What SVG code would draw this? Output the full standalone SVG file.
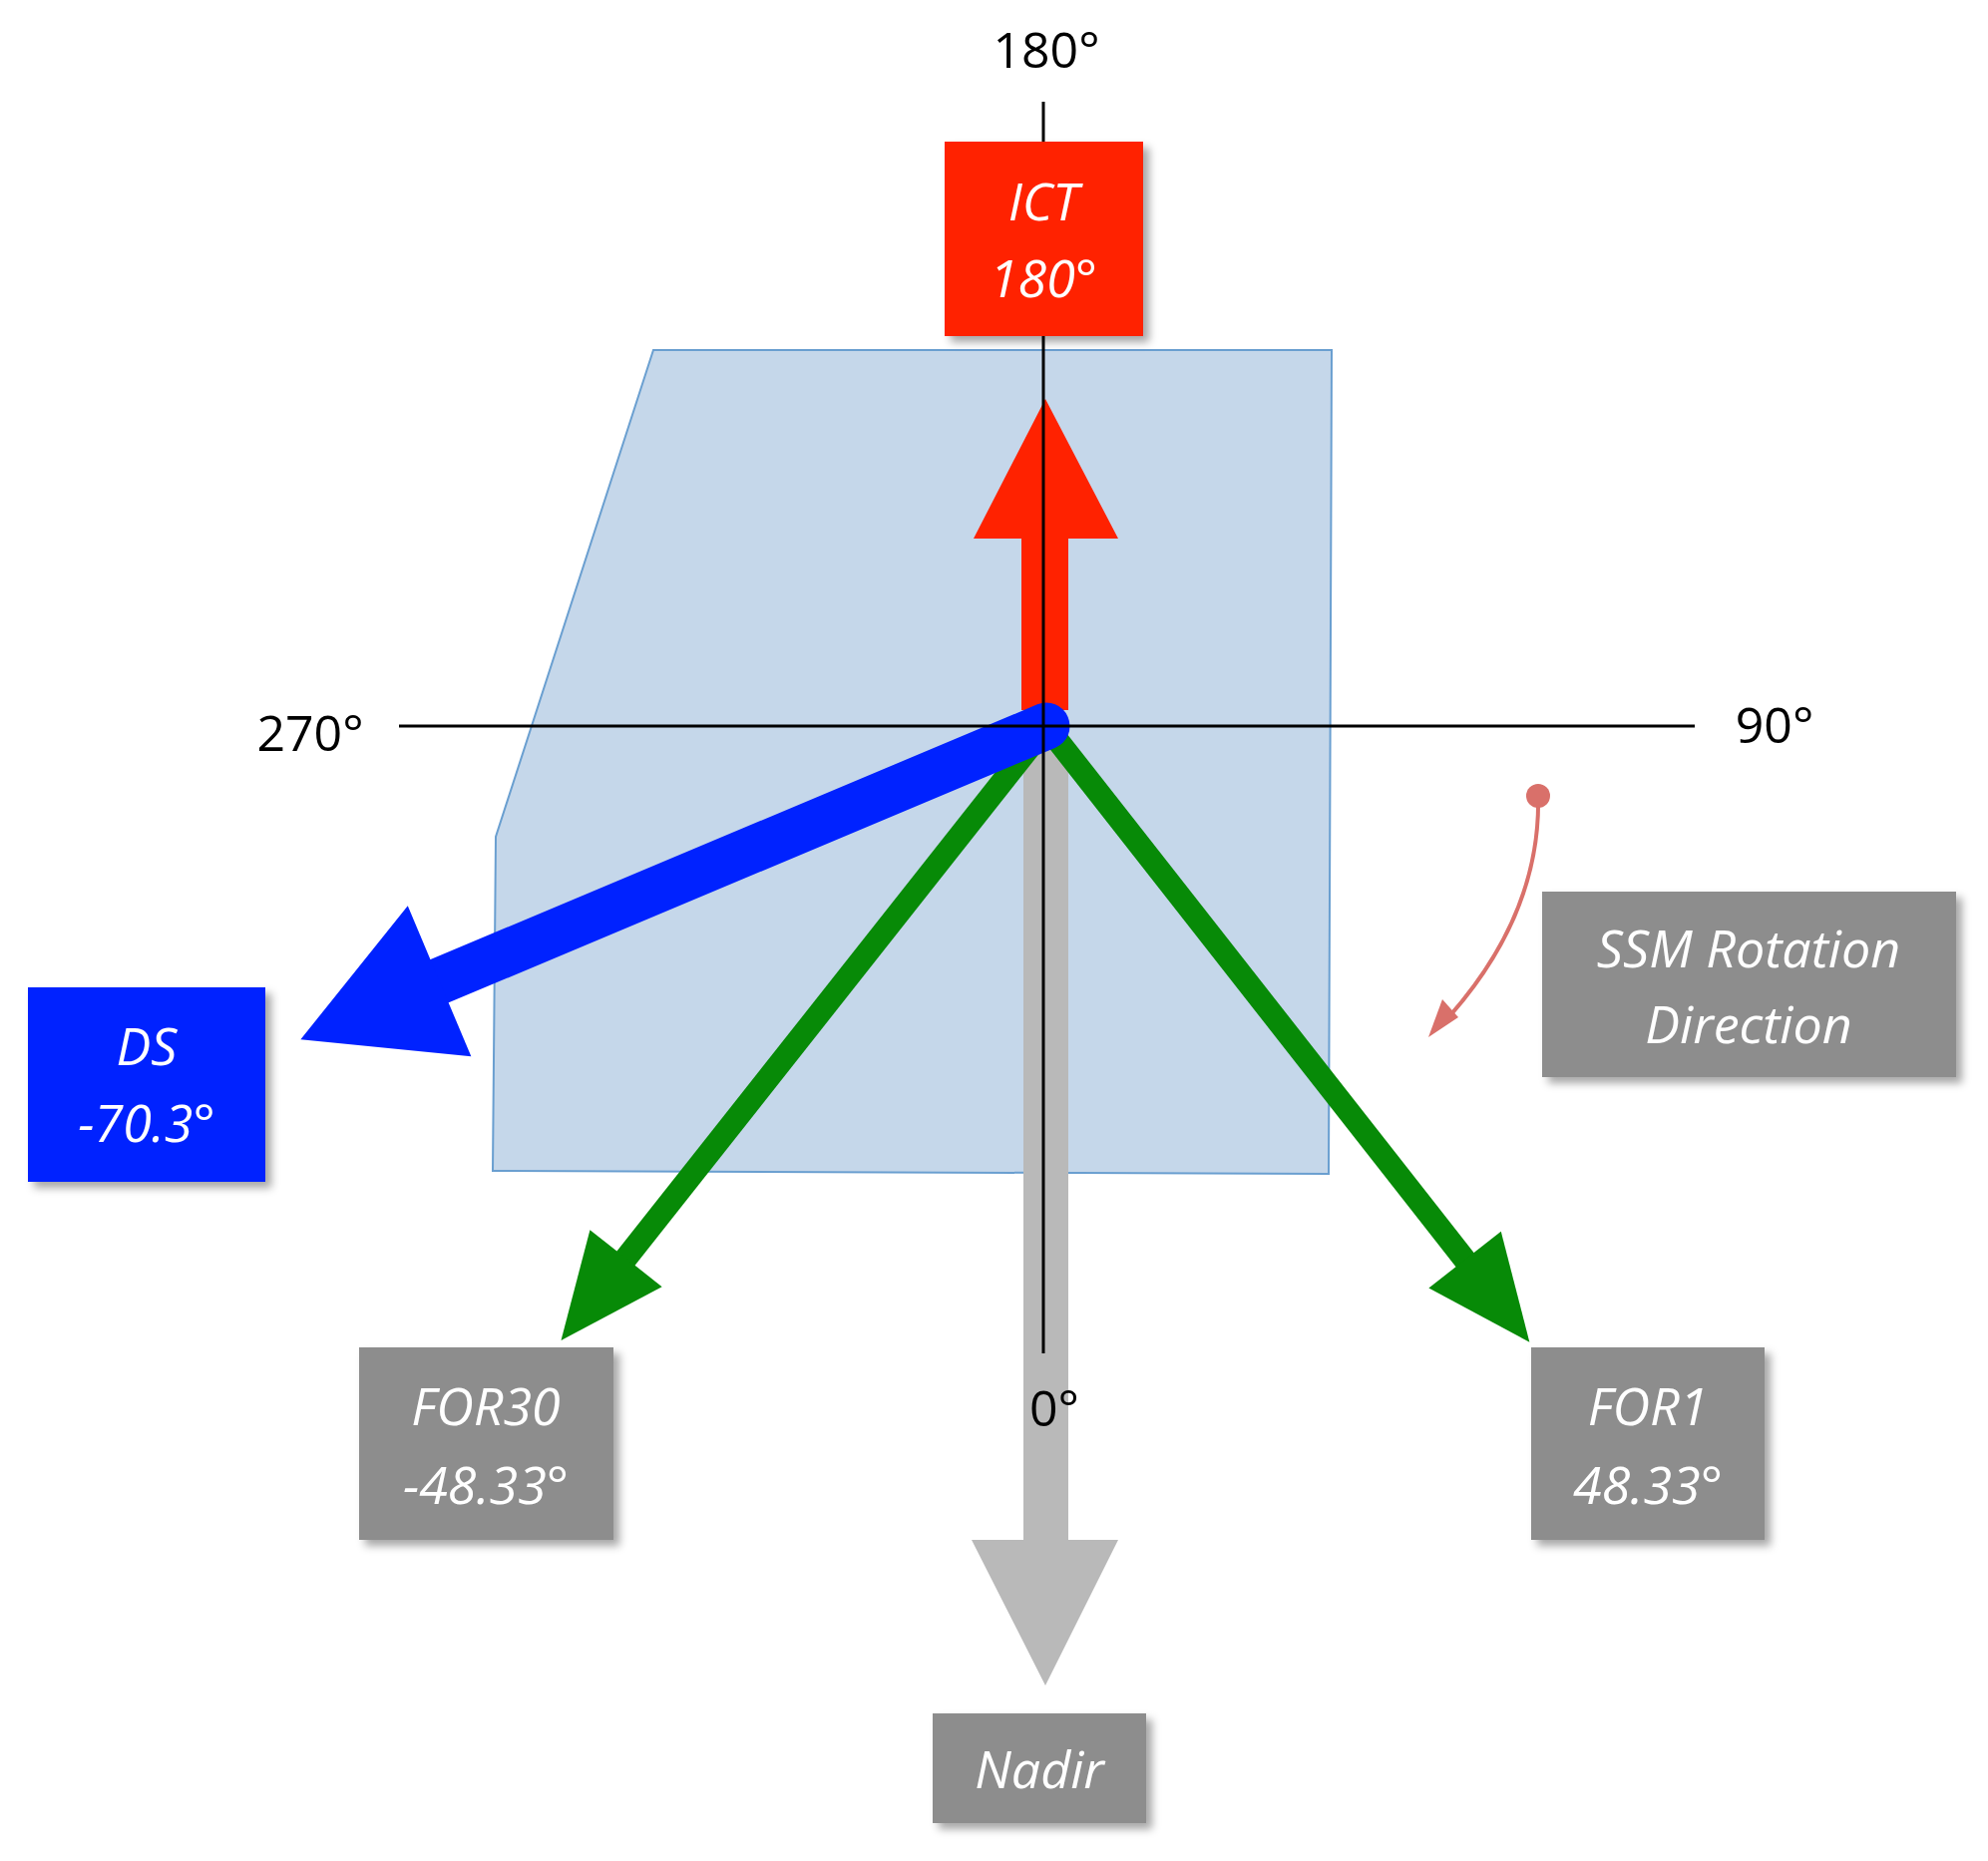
<svg xmlns="http://www.w3.org/2000/svg" width="1993" height="1866" viewBox="0 0 1993 1866">
<defs>
<filter id="sh" x="-20%" y="-20%" width="150%" height="150%"><feDropShadow dx="6" dy="6" stdDeviation="4" flood-color="#000" flood-opacity="0.35"/></filter>
<style>
.lbl{font-family:"Open Sans","Liberation Sans",sans-serif;font-style:italic;fill:#fff;font-size:52px;text-anchor:middle}
.ax{font-family:"Open Sans","Liberation Sans",sans-serif;fill:#000;font-size:50px;text-anchor:middle}
.gbox{fill:#8d8d8d;filter:url(#sh)}
</style>
</defs>
<rect width="1993" height="1866" fill="#fff"/>
<polygon id="plate" points="655,351 1335,351 1332,1177 494,1174 497,839" fill="#c5d7ea" stroke="#6a9fd0" stroke-width="2"/>
<g id="connectors">
<polygon id="nadir-arrow" points="1026,728 1071,728 1071,1544 1121,1544 1048,1690 974,1544 1026,1544" fill="#b9b9b9"/>
<polygon id="ict-arrow" points="1024,712 1071,712 1071,540 1121,540 1048,400 976,540 1024,540" fill="#ff2200"/>
<g transform="translate(1049,728) rotate(128.3)"><line x1="0" y1="0" x2="690" y2="0" stroke="#078a07" stroke-width="23"/><polygon points="680,-46 785,0 680,46" fill="#078a07"/></g>
<g transform="translate(1049,728) rotate(51.9)"><line x1="0" y1="0" x2="690" y2="0" stroke="#078a07" stroke-width="23"/><polygon points="680,-46 785,0 680,46" fill="#078a07"/></g>
<g transform="translate(1049,728) rotate(157.2)"><line x1="0" y1="0" x2="665" y2="0" stroke="#0022ff" stroke-width="47" stroke-linecap="round"/><polygon points="660,-82 811,0 660,82" fill="#0022ff"/></g>
<line x1="1046" y1="102" x2="1046" y2="1357" stroke="#000" stroke-width="3"/>
<line x1="400" y1="728" x2="1699" y2="728" stroke="#000" stroke-width="3"/>
<path d="M1542,798 Q1545,920 1445,1028" fill="none" stroke="#d9706a" stroke-width="4"/>
<circle cx="1542" cy="798" r="12" fill="#d9706a"/>
<polygon points="1432,1040 1446,1002 1462,1020" fill="#d9706a"/>
</g>
<text class="ax" x="1049" y="68">180°</text>
<text class="ax" x="311" y="753">270°</text>
<text class="ax" x="1779" y="745">90°</text>
<text class="ax" x="1057" y="1430">0°</text>
<g id="ict"><rect x="947" y="142" width="199" height="195" fill="#ff2200" filter="url(#sh)"/><text class="lbl" x="1046" y="221">ICT</text><text class="lbl" x="1046" y="298">180°</text></g>
<g id="ds"><rect x="28" y="990" width="238" height="195" fill="#0022ff" filter="url(#sh)"/><text class="lbl" x="147" y="1068">DS</text><text class="lbl" x="147" y="1145">-70.3°</text></g>
<g id="ssm"><rect class="gbox" x="1546" y="894" width="415" height="186"/><text class="lbl" x="1753" y="970">SSM Rotation</text><text class="lbl" x="1753" y="1046">Direction</text></g>
<g id="for30"><rect class="gbox" x="360" y="1351" width="255" height="193"/><text class="lbl" x="487" y="1429">FOR30</text><text class="lbl" x="487" y="1508">-48.33°</text></g>
<g id="for1"><rect class="gbox" x="1535" y="1351" width="234" height="193"/><text class="lbl" x="1652" y="1429">FOR1</text><text class="lbl" x="1652" y="1508">48.33°</text></g>
<g id="nadir"><rect class="gbox" x="935" y="1718" width="214" height="110"/><text class="lbl" x="1042" y="1793">Nadir</text></g>
</svg>
